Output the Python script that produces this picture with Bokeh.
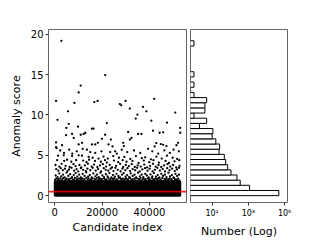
from bokeh.plotting import figure
from bokeh.layouts import row
from bokeh.models import Range1d, FixedTicker, Span, ColumnDataSource
from bokeh.embed import file_html
from bokeh.resources import INLINE

# ---------------- data ----------------
n_candidates = 53000
score_max = 19.2
threshold = 0.5
n_bins = 30

# the dense, visually solid bulk of candidates (scores ~0 .. 1.75)
band_x = [0, 53000]
band_y = [0.0, 1.75]

# isolated high-score candidates
high_points = [
    (2800, 19.2), (21300, 14.95), (10950, 13.65), (10100, 12.8), (550, 11.75),
    (8300, 11.5), (16700, 11.6), (18100, 11.75), (27500, 11.35), (28100, 11.2),
    (29900, 11.75), (42000, 12.0), (31700, 10.8), (37300, 11.0), (38700, 10.45),
    (5600, 10.45), (34900, 10.05), (50900, 10.3), (1140, 9.4), (34200, 9.55),
    (40800, 9.3), (22000, 9.0), (5900, 8.9), (47400, 9.05), (9800, 8.55),
    (4900, 8.4), (53000, 8.4), (15700, 8.3), (16400, 8.3), (41500, 8.05),
    (12900, 7.8), (12200, 7.65), (10950, 7.55), (7300, 7.65), (4800, 7.5),
    (8000, 7.15), (21300, 7.55), (31000, 7.9), (44300, 7.8), (45800, 7.85),
    (53000, 7.8), (35200, 7.65), (36600, 7.65), (32400, 7.15), (19900, 7.05),
    (23700, 6.95), (31700, 6.95), (550, 6.6), (11500, 6.55), (10100, 6.35),
    (15700, 6.35), (17100, 6.35), (18200, 6.55), (22700, 6.35), (24400, 6.1),
    (28900, 6.55), (29200, 6.15), (42200, 6.1), (42900, 6.5), (44800, 6.4),
    (45800, 6.3), (47200, 6.15), (52100, 6.55), (51400, 6.25), (550, 6.0),
    (3070, 6.25),
]

# medium scores (about 3 .. 6)
mid_points = [
    (800, 5.9), (2300, 5.6), (3900, 5.3), (6100, 5.7), (7400, 5.2), (9300, 5.5),
    (11800, 5.8), (13600, 5.7), (15000, 5.4), (17100, 5.3), (19700, 5.5),
    (23400, 5.4), (25500, 5.5), (26200, 5.2), (28300, 5.7), (30600, 5.4),
    (33500, 5.6), (36100, 5.3), (39400, 5.8), (41200, 5.5), (43700, 5.2),
    (46300, 5.6), (48600, 5.3), (50200, 5.7), (52400, 5.5),
    (1400, 4.95), (3800, 5.0), (7300, 4.9), (10100, 5.0), (11500, 4.95),
    (14300, 4.8), (16000, 4.7), (18500, 4.6), (20600, 4.85), (22400, 4.6),
    (24700, 4.9), (27100, 4.7), (29400, 4.8), (31900, 4.55), (34300, 4.9),
    (36800, 4.65), (38200, 4.75), (40600, 4.5), (42900, 4.85), (45200, 4.6),
    (47400, 4.95), (49800, 4.7), (51700, 4.55),
    (1000, 4.4), (4000, 4.3), (5200, 4.45), (7000, 4.2), (9000, 4.4),
    (12000, 4.35), (13400, 4.15), (14500, 4.45), (17000, 4.3), (19500, 4.2),
    (21200, 4.4), (22000, 4.1), (25000, 4.35), (26800, 4.15), (28700, 4.4),
    (30300, 4.2), (32800, 4.3), (35400, 4.05), (37600, 4.35), (39900, 4.15),
    (41700, 4.4), (44000, 4.1), (46800, 4.3), (48200, 4.05), (50600, 4.25),
    (52600, 4.4),
    (300, 3.8), (1900, 3.6), (2900, 3.95), (4600, 3.7), (6300, 3.55), (7900, 3.9),
    (8800, 3.65), (10400, 3.8), (11200, 3.5), (12700, 3.75), (14000, 3.95),
    (15600, 3.6), (16600, 3.85), (18000, 3.55), (19100, 3.75), (20300, 3.9),
    (21700, 3.6), (23200, 3.8), (24200, 3.5), (25900, 3.7), (27600, 3.95),
    (28900, 3.55), (30000, 3.8), (31300, 3.65), (32500, 3.9), (33800, 3.55),
    (35000, 3.75), (36300, 3.6), (37800, 3.85), (39000, 3.5), (40300, 3.7),
    (41500, 3.95), (42600, 3.6), (43800, 3.8), (45000, 3.55), (46200, 3.75),
    (47600, 3.9), (48800, 3.6), (50000, 3.8), (51300, 3.5), (52700, 3.7),
    (600, 3.3), (1500, 3.1), (2500, 3.4), (3400, 3.15), (4300, 3.35), (5400, 3.05),
    (6000, 3.25), (7100, 3.45), (8200, 3.1), (9200, 3.3), (9900, 3.0), (11000, 3.4),
    (12000, 3.2), (13100, 3.05), (13800, 3.35), (15000, 3.15), (16000, 3.45),
    (17300, 3.1), (18300, 3.3), (19600, 3.0), (20700, 3.4), (21500, 3.2),
    (22600, 3.1), (23600, 3.35), (24800, 3.05), (25600, 3.45), (26600, 3.2),
    (27800, 3.0), (28600, 3.35), (29800, 3.15), (30700, 3.4), (31800, 3.05),
    (32900, 3.3), (34000, 3.15), (34800, 3.45), (35900, 3.0), (37000, 3.25),
    (38100, 3.4), (39200, 3.1), (40100, 3.35), (41300, 3.0), (42300, 3.2),
    (43300, 3.45), (44400, 3.1), (45600, 3.3), (46600, 3.0), (47500, 3.4),
    (48500, 3.15), (49600, 3.35), (50700, 3.05), (51600, 3.25), (52500, 3.45),
]

# low scores just above the solid bulk (about 1.75 .. 2.9)
low_points = [
    (400, 2.5), (1200, 2.3), (1900, 2.75), (2700, 2.4), (3500, 2.6), (4200, 2.25),
    (5000, 2.85), (5700, 2.45), (6500, 2.65), (7300, 2.3), (8000, 2.55), (8800, 2.8),
    (9500, 2.35), (10300, 2.6), (11000, 2.25), (11800, 2.7), (12600, 2.45),
    (13300, 2.9), (14100, 2.35), (14800, 2.55), (15600, 2.25), (16300, 2.75),
    (17100, 2.4), (17800, 2.6), (18600, 2.3), (19300, 2.85), (20100, 2.5),
    (20800, 2.3), (21600, 2.65), (22300, 2.4), (23100, 2.8), (23900, 2.25),
    (24600, 2.55), (25400, 2.35), (26100, 2.7), (26900, 2.45), (27600, 2.25),
    (28400, 2.6), (29100, 2.8), (29900, 2.35), (30600, 2.55), (31400, 2.3),
    (32100, 2.75), (32900, 2.45), (33700, 2.6), (34400, 2.25), (35200, 2.85),
    (35900, 2.4), (36700, 2.6), (37400, 2.3), (38200, 2.7), (38900, 2.5),
    (39700, 2.25), (40400, 2.65), (41200, 2.4), (41900, 2.8), (42700, 2.35),
    (43500, 2.55), (44200, 2.25), (45000, 2.7), (45700, 2.45), (46500, 2.6),
    (47200, 2.3), (48000, 2.85), (48700, 2.4), (49500, 2.55), (50200, 2.25),
    (51000, 2.7), (51700, 2.45), (52500, 2.6),
    (150, 1.95), (600, 2.1), (1050, 1.8), (1400, 2.05), (1900, 1.9), (2300, 2.15),
    (2750, 1.85), (3200, 2.0), (3600, 2.2), (4100, 1.8), (4500, 1.95), (5000, 2.1),
    (5400, 1.85), (5850, 2.05), (6300, 1.9), (6700, 2.15), (7200, 1.8), (7600, 2.0),
    (8100, 1.95), (8500, 2.2), (8950, 1.85), (9400, 2.05), (9800, 1.9), (10300, 2.1),
    (10700, 1.8), (11150, 2.0), (11600, 2.15), (12000, 1.9), (12500, 2.05),
    (12900, 1.8), (13350, 2.2), (13800, 1.95), (14200, 2.1), (14700, 1.85),
    (15100, 2.0), (15550, 1.9), (16000, 2.15), (16400, 1.8), (16900, 2.05),
    (17300, 1.95), (17750, 2.2), (18200, 1.85), (18600, 2.0), (19100, 2.1),
    (19500, 1.9), (19950, 2.05), (20400, 1.8), (20800, 2.15), (21300, 1.95),
    (21700, 2.0), (22150, 1.85), (22600, 2.2), (23000, 1.9), (23500, 2.05),
    (23900, 1.8), (24350, 2.1), (24800, 1.95), (25200, 2.15), (25700, 1.85),
    (26100, 2.0), (26550, 1.9), (27000, 2.2), (27400, 1.8), (27900, 2.05),
    (28300, 1.95), (28750, 2.1), (29200, 1.85), (29600, 2.0), (30100, 2.15),
    (30500, 1.9), (30950, 2.05), (31400, 1.8), (31800, 2.2), (32300, 1.95),
    (32700, 2.0), (33150, 1.85), (33600, 2.1), (34000, 1.9), (34500, 2.15),
    (34900, 1.8), (35350, 2.05), (35800, 1.95), (36200, 2.2), (36700, 1.85),
    (37100, 2.0), (37550, 2.1), (38000, 1.9), (38400, 2.05), (38900, 1.8),
    (39300, 2.15), (39750, 1.95), (40200, 2.0), (40600, 1.85), (41100, 2.2),
    (41500, 1.9), (41950, 2.05), (42400, 1.8), (42800, 2.1), (43300, 1.95),
    (43700, 2.15), (44150, 1.85), (44600, 2.0), (45000, 1.9), (45500, 2.2),
    (45900, 1.8), (46350, 2.05), (46800, 1.95), (47200, 2.1), (47700, 1.85),
    (48100, 2.0), (48550, 2.15), (49000, 1.9), (49400, 2.05), (49900, 1.8),
    (50300, 2.2), (50750, 1.95), (51200, 2.0), (51600, 1.85), (52100, 2.1),
    (52600, 1.9),
]

# histogram of anomaly scores (30 equal bins from 0 to score_max), log-count axis
hist_counts = [48000, 1170, 355, 236, 110, 72, 56, 47, 24, 26,
               16, 10, 11, 2, 5, 1, 4, 4, 5, 1,
               0, 1, 0, 1, 0, 0, 0, 0, 0, 1]

x_ticks = [0, 20000, 40000]
y_ticks = [0, 5, 10, 15, 20]
count_ticks = [10, 1000, 100000]
count_labels = ["10\u00b9", "10\u00b3", "10\u2075"]

# ---------------- drawing ----------------
FONT = "DejaVu Sans"
FIG_H = 240
TOP = 29
BOTTOM = 37


def style(p):
    p.grid.visible = False
    p.outline_line_color = "#666666"
    p.outline_line_width = 1
    p.background_fill_color = "white"
    p.border_fill_color = "white"
    for ax in p.axis:
        ax.axis_line_color = None
        ax.major_tick_line_color = "#333333"
        ax.major_tick_out = 3
        ax.major_tick_in = 0
        ax.minor_tick_line_color = None
        ax.major_label_text_font = FONT
        ax.major_label_text_color = "black"
        ax.axis_label_text_font = FONT
        ax.axis_label_text_font_style = "normal"
        ax.axis_label_text_font_size = "11px"
        ax.axis_label_text_color = "black"


p1 = figure(width=188, height=FIG_H, output_backend="svg", toolbar_location=None,
            x_range=Range1d(-2650, 55650), y_range=Range1d(-0.85, 20.6),
            min_border_left=48, min_border_right=2, min_border_top=TOP,
            min_border_bottom=BOTTOM)
style(p1)

p1.quad(left=[band_x[0]], right=[band_x[1]], bottom=[band_y[0]], top=[band_y[1]],
        fill_color="black", line_color="black", line_width=2)

pts = high_points + mid_points + low_points
src = ColumnDataSource(dict(x=[q[0] for q in pts], y=[q[1] for q in pts]))
p1.scatter("x", "y", source=src, size=2.3, marker="circle",
           fill_color="black", line_color=None)

p1.add_layout(Span(location=threshold, dimension="width", line_color="#ee0000",
                   line_alpha=0.85, line_width=1.6))

p1.xaxis.ticker = FixedTicker(ticks=x_ticks)
p1.yaxis.ticker = FixedTicker(ticks=y_ticks)
p1.xaxis.major_label_text_font_size = "10px"
p1.yaxis.major_label_text_font_size = "10px"
p1.xaxis.major_label_standoff = 2
p1.yaxis.major_label_standoff = 2
p1.xaxis.axis_label = "Candidate index"
p1.yaxis.axis_label = "Anomaly score"
p1.xaxis.axis_label_standoff = 2
p1.yaxis.axis_label_standoff = 5

p2 = figure(width=132, height=FIG_H, output_backend="svg", toolbar_location=None,
            x_axis_type="log", x_range=Range1d(0.64, 145000), y_range=p1.y_range,
            min_border_left=2, min_border_right=33, min_border_top=TOP,
            min_border_bottom=BOTTOM)
style(p2)

bin_w = score_max / n_bins
h_left, h_right, h_bottom, h_top = [], [], [], []
for k, c in enumerate(hist_counts):
    if c > 0:
        h_left.append(0.1)
        h_right.append(c)
        h_bottom.append(k * bin_w)
        h_top.append((k + 1) * bin_w)
p2.quad(left=h_left, right=h_right, bottom=h_bottom, top=h_top,
        fill_color="white", line_color="black", line_width=1)

p2.yaxis.visible = False
p2.xaxis.ticker = FixedTicker(ticks=count_ticks)
p2.xaxis.major_label_overrides = {t: s for t, s in zip(count_ticks, count_labels)}
p2.xaxis.major_label_text_font_size = "8px"
p2.xaxis.major_label_standoff = 3
p2.xaxis.axis_label = "Number (Log)"
p2.xaxis.axis_label_standoff = 4

layout = row(p1, p2)
open("out.html", "w").write(file_html(layout, INLINE))
